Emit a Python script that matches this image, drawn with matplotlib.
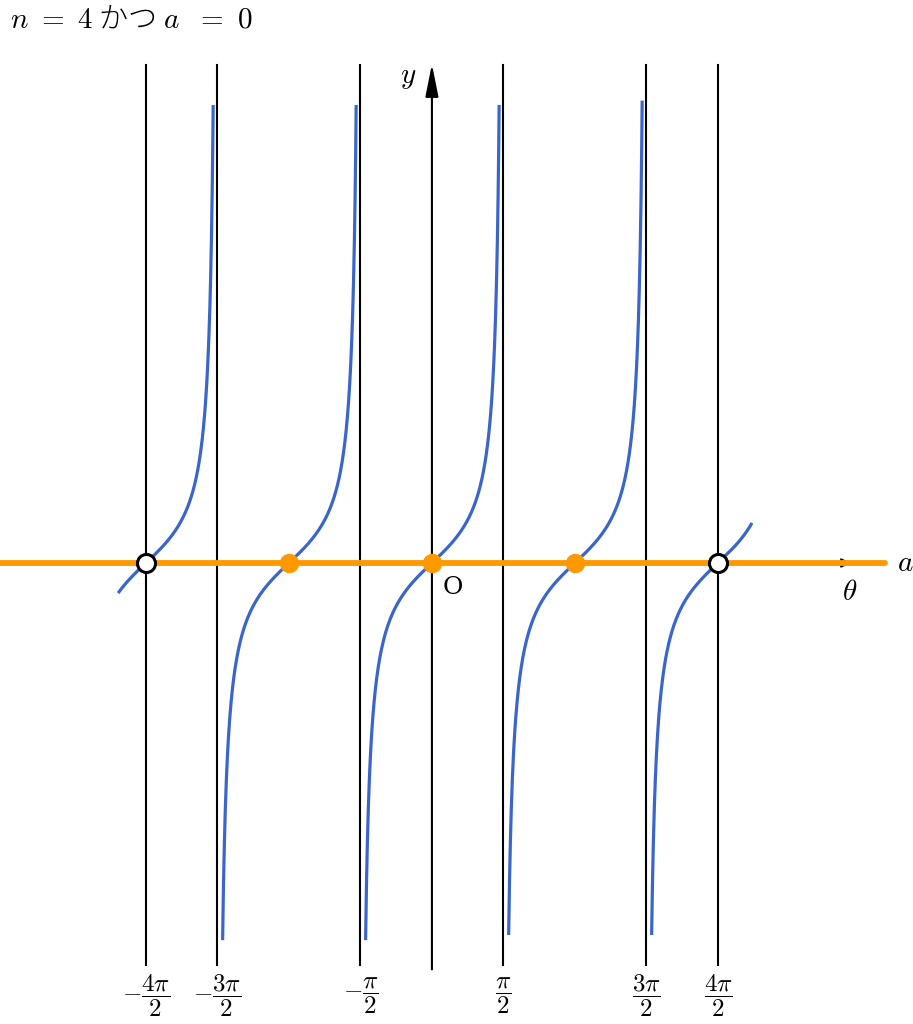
import numpy as np
import matplotlib.pyplot as plt

plt.rcParams['mathtext.fontset'] = 'cm'

# data
zeros_open = [-2 * np.pi, 2 * np.pi]          # excluded points
zeros_filled = [-np.pi, 0.0, np.pi]           # solutions
asymptotes = [-3 * np.pi / 2, -np.pi / 2, np.pi / 2, 3 * np.pi / 2]
tick_vals = [-2 * np.pi, -3 * np.pi / 2, -np.pi / 2, np.pi / 2, 3 * np.pi / 2, 2 * np.pi]
tick_labels = [r'$-\dfrac{4\pi}{2}$', r'$-\dfrac{3\pi}{2}$', r'$-\dfrac{\pi}{2}$',
               r'$\dfrac{\pi}{2}$', r'$\dfrac{3\pi}{2}$', r'$\dfrac{4\pi}{2}$']
# each branch of tan: (branch centre, lower y clip, upper y clip)
branches = [(-2 * np.pi, -0.70, 10.65),
            (-np.pi, -8.77, 10.65),
            (0.0, -8.77, 10.65),
            (np.pi, -8.65, 10.75),
            (2 * np.pi, -8.65, 0.93)]

BLUE = '#3a66cc'
ORANGE = '#ff9900'

fig = plt.figure(figsize=(9.13, 10.24), dpi=100)
ax = fig.add_axes([0, 0, 1, 1])
ax.set_xlim(-9.49, 10.57)
ax.set_ylim(-10.72, 13.09)
ax.axis('off')

# vertical guide lines
for v in asymptotes + zeros_open:
    ax.plot([v, v], [-9.35, 11.58], color='black', lw=1.5, zorder=1)

# y axis
ax.annotate('', xy=(0, 11.6), xytext=(0, -9.45),
            arrowprops=dict(arrowstyle='-|>,head_width=0.18,head_length=0.9',
                            color='black', lw=1.5,
                            mutation_scale=22, shrinkA=0, shrinkB=0), zorder=2)
# theta axis (under the orange line)
ax.annotate('', xy=(9.2, 0), xytext=(-9.4, 0),
            arrowprops=dict(arrowstyle='-|>', color='black', lw=1.2,
                            mutation_scale=14, shrinkA=0, shrinkB=0), zorder=2)

# tan branches
for c, lo, hi in branches:
    t = np.linspace(np.arctan(lo), np.arctan(hi), 600)
    ax.plot(c + t, np.tan(t), color=BLUE, lw=2.3, zorder=3, solid_capstyle='butt')

# y = a line
ax.plot([-9.49, 9.95], [0, 0], color=ORANGE, lw=4.2, zorder=4, solid_capstyle='round')

ax.plot(zeros_filled, [0] * len(zeros_filled), 'o', color=ORANGE, ms=13, zorder=5)
ax.plot(zeros_open, [0] * len(zeros_open), 'o', mfc='white', mec='black',
        mew=2.2, ms=13, zorder=5)

for v, lab in zip(tick_vals, tick_labels):
    ax.text(v, -10.05, lab, ha='center', va='center', fontsize=18)

ax.text(-0.53, 11.3, r'$y$', ha='center', va='center', fontsize=21)
ax.text(0.45, -0.58, 'O', ha='center', va='center', fontsize=18,
        family='DejaVu Serif')
ax.text(9.18, -0.67, r'$\theta$', ha='center', va='center', fontsize=21)
ax.text(10.4, 0, r'$a$', ha='center', va='center', fontsize=21)

fig.text(0.011, 1 - 28 / 1024, r'$n\ =\ 4$ かつ $a\ \ =\ 0$', ha='left',
         va='baseline', fontsize=21,
         family=['Noto Sans CJK JP', 'DejaVu Sans'], fontweight='light')

fig.savefig('out.png', dpi=100)
